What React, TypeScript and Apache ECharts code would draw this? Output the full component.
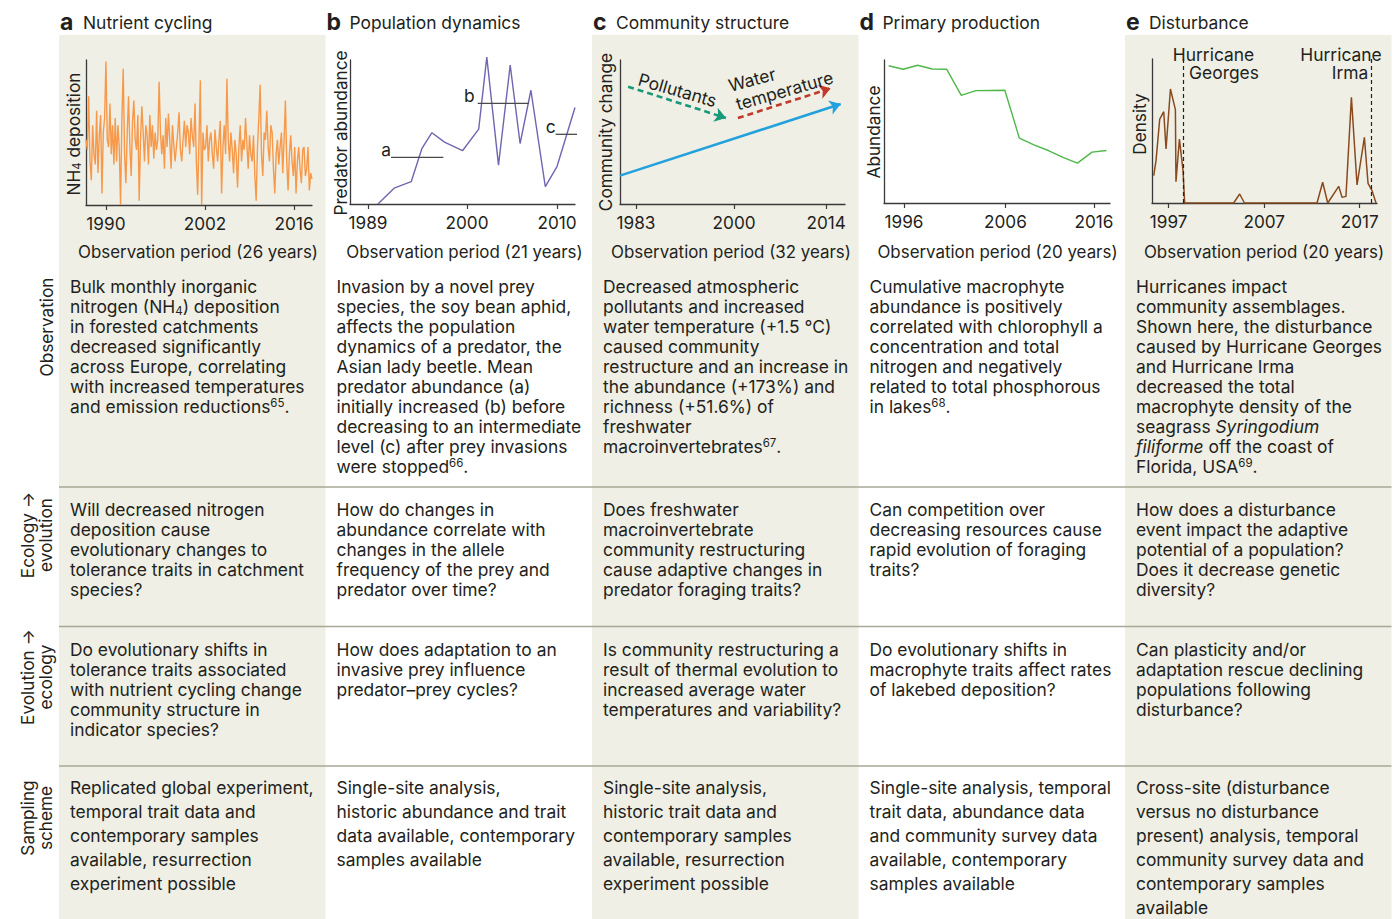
import React, { useEffect, useRef } from "react";
import * as echarts from "echarts";

const FONT = "Inter, 'Noto Sans', sans-serif";
const FS = 17.4;
const FS_TICK = 17.2;
const FS_XNAME = 16.9;
const TXT = "#231f20";
const AX = "#3a3a3a";
const BEIGE = "#efefe5";
const RULE = "#a9a896";

// ---------- panel a: nutrient cycling (monthly series, index axis) ----------
const nutrientTickPos = [15, 89.5, 156.5];
const nutrientTickLabels = ["1990", "2002", "2016"];
const nutrientDeposition = [
  45, 38, 75, 30, 17, 55, 35, 28, 65, 22,
  48, 62, 8, 50, 60, 99, 45, 40, 70, 35,
  55, 28, 60, 30, 55, 40, 0, 60, 94, 35,
  15, 50, 75, 40, 20, 58, 72, 45, 38, 62,
  3, 45, 68, 50, 30, 55, 48, 28, 62, 40,
  55, 32, 50, 38, 45, 85, 50, 35, 48, 25,
  60, 40, 63, 45, 25, 55, 42, 30, 40, 50,
  64, 38, 30, 45, 58, 40, 55, 50, 35, 60,
  48, 40, 70, 30, 7, 45, 86, 0, 50, 38,
  40, 55, 30, 45, 50, 35, 25, 52, 40, 30,
  45, 58, 8, 40, 55, 35, 87, 45, 30, 50,
  38, 22, 45, 35, 12, 40, 55, 30, 45, 38,
  60, 42, 25, 48, 35, 30, 48, 20, 3, 40,
  60, 83, 35, 20, 50, 45, 65, 40, 30, 55,
  50, 25, 8, 35, 45, 28, 40, 50, 22, 45,
  72, 30, 10, 35, 48, 30, 20, 40, 8, 30,
  40, 25, 15, 38, 40, 20, 25, 40, 10, 22,
  18,
];

// ---------- panel b: population dynamics ----------
const predatorTickYears = [1989, 2000, 2010];
const predatorYears = [1990.1, 1991.9, 1993.8, 1995.0, 1996.1, 1997.5, 1999.5, 2001.3, 2002.2, 2003.5, 2004.8, 2005.9, 2007.1, 2008.7, 2010.0, 2012.0];
const predatorAbundance = [0, 11, 15.5, 38.7, 49.5, 43, 37, 52, 102, 27, 96.5, 42, 79, 12, 26, 67];
const phaseLabels = ["a", "b", "c"];
const phaseStart = [1991.56, 2001.19, 2009.85];
const phaseEnd = [1997.37, 2006.89, 2013.03];
const phaseLevel = [32.4, 69.9, 48.4];

// ---------- panel c: community structure (schematic) ----------
const communityTickPos = [7.1, 50.7, 91.6];
const communityTickLabels = ["1983", "2000", "2014"];
const communityTrend = [[0, 19.7], [98.1, 69.4]];
const pollutantArrow = [[3.6, 81.5], [47.1, 59.7]];
const temperatureArrow = [[52.4, 59.7], [93.6, 80.3]];

// ---------- panel d: primary production ----------
const productionTickPos = [1.06, 8.04, 14.14];
const productionTickLabels = ["1996", "2006", "2016"];
const macrophyteIndex = [0, 1, 2, 3, 4, 5, 6, 8, 9, 10, 11, 12, 13, 14, 15];
const macrophyteAbundance = [96, 93.5, 96.3, 93.7, 93.5, 75.3, 78.6, 78.8, 45.3, 40.7, 36.7, 31.9, 27.9, 35.6, 36.7];

// ---------- panel e: disturbance ----------
const disturbanceTickYears = [1997, 2007, 2017];
const densityYears = [1995.43, 1995.67, 1996.06, 1996.48, 1996.72, 1997.18, 1997.7, 1997.76, 1998.12, 1998.5, 1998.67, 2003.8, 2004.43, 2004.93, 2012.53, 2013.12, 2013.65, 2014.8, 2015.15, 2015.56, 2016.13, 2016.72, 2017.49, 2017.87, 2018.29, 2018.71];
const densityValues = [19, 29.4, 58.3, 63.4, 37.5, 79.2, 64.8, 14.8, 44.4, 22.5, 0, 0, 6.25, 0, 0, 14.4, 0, 11.6, 3.9, 4.6, 73.4, 12.5, 45.6, 13.7, 8.6, 0];
const hurricaneYears = [1998.57, 2018.22];

// ---------- texts ----------
const panelLetters = ["a", "b", "c", "d", "e"];
const panelTitles = ["Nutrient cycling", "Population dynamics", "Community structure", "Primary production", "Disturbance"];
const xAxisNames = [
  "Observation period (26 years)",
  "Observation period (21 years)",
  "Observation period (32 years)",
  "Observation period (20 years)",
  "Observation period (20 years)",
];
const yAxisNames = ["NH{sub|4} deposition", "Predator abundance", "Community change", "Abundance", "Density"];
const rowLabels = [["Observation"], ["Ecology \u2192", "evolution"], ["Evolution \u2192", "ecology"], ["Sampling", "scheme"]];

const observationText = [
  ["Bulk monthly inorganic", "nitrogen (NH{sub|4}) deposition", "in forested catchments", "decreased significantly", "across Europe, correlating", "with increased temperatures", "and emission reductions{sup|65}."],
  ["Invasion by a novel prey", "species, the soy bean aphid,", "affects the population", "dynamics of a predator, the", "Asian lady beetle. Mean", "predator abundance (a)", "initially increased (b) before", "decreasing to an intermediate", "level (c) after prey invasions", "were stopped{sup|66}."],
  ["Decreased atmospheric", "pollutants and increased", "water temperature (+1.5 \u00b0C)", "caused community", "restructure and an increase in", "the abundance (+173%) and", "richness (+51.6%) of", "freshwater", "macroinvertebrates{sup|67}."],
  ["Cumulative macrophyte", "abundance is positively", "correlated with chlorophyll a", "concentration and total", "nitrogen and negatively", "related to total phosphorous", "in lakes{sup|68}."],
  ["Hurricanes impact", "community assemblages.", "Shown here, the disturbance", "caused by Hurricane Georges", "and Hurricane Irma", "decreased the total", "macrophyte density of the", "seagrass {it|Syringodium}", "{it|filiforme} off the coast of", "Florida, USA{sup|69}."],
];
const ecoEvoText = [
  ["Will decreased nitrogen", "deposition cause", "evolutionary changes to", "tolerance traits in catchment", "species?"],
  ["How do changes in", "abundance correlate with", "changes in the allele", "frequency of the prey and", "predator over time?"],
  ["Does freshwater", "macroinvertebrate", "community restructuring", "cause adaptive changes in", "predator foraging traits?"],
  ["Can competition over", "decreasing resources cause", "rapid evolution of foraging", "traits?"],
  ["How does a disturbance", "event impact the adaptive", "potential of a population?", "Does it decrease genetic", "diversity?"],
];
const evoEcoText = [
  ["Do evolutionary shifts in", "tolerance traits associated", "with nutrient cycling change", "community structure in", "indicator species?"],
  ["How does adaptation to an", "invasive prey influence", "predator\u2013prey cycles?"],
  ["Is community restructuring a", "result of thermal evolution to", "increased average water", "temperatures and variability?"],
  ["Do evolutionary shifts in", "macrophyte traits affect rates", "of lakebed deposition?"],
  ["Can plasticity and/or", "adaptation rescue declining", "populations following", "disturbance?"],
];
const samplingText = [
  ["Replicated global experiment,", "temporal trait data and", "contemporary samples", "available, resurrection", "experiment possible"],
  ["Single-site analysis,", "historic abundance and trait", "data available, contemporary", "samples available"],
  ["Single-site analysis,", "historic trait data and", "contemporary samples", "available, resurrection", "experiment possible"],
  ["Single-site analysis, temporal", "trait data, abundance data", "and community survey data", "available, contemporary", "samples available"],
  ["Cross-site (disturbance", "versus no disturbance", "present) analysis, temporal", "community survey data and", "contemporary samples", "available"],
];

// ---------- layout ----------
const COL_X = [59, 325.5, 592, 858.5, 1125];
const COL_W = 266.5;
const RULES_Y = [487, 626.5, 766];
const GRIDS = [
  { left: 86, top: 60, width: 226, height: 145 },
  { left: 350, top: 60, width: 225, height: 144 },
  { left: 620, top: 60, width: 225, height: 144 },
  { left: 884, top: 60, width: 226, height: 143 },
  { left: 1152, top: 59, width: 225, height: 144 },
];

const RICH: any = {
  sup: { fontFamily: FONT, fontSize: 11.5, lineHeight: 11, verticalAlign: "top", fill: TXT },
  sub: { fontFamily: FONT, fontSize: 11.5, lineHeight: 12, verticalAlign: "bottom", fill: TXT },
  it: { fontFamily: FONT, fontSize: FS, fontStyle: "italic", fill: TXT },
};

function txt(x: number, y: number, text: string, opts: any = {}) {
  return {
    type: "text",
    x,
    y,
    z: 10,
    silent: true,
    rotation: opts.rotation || 0,
    style: {
      text,
      fontFamily: FONT,
      fontSize: opts.fontSize || FS,
      fontWeight: opts.fontWeight || "normal",
      fill: TXT,
      lineHeight: opts.lineHeight || 20,
      textAlign: opts.align || "left",
      textVerticalAlign: opts.valign || "middle",
      rich: RICH,
    },
  };
}

function buildOption() {
  const graphic: any[] = [];
  [0, 2, 4].forEach((c) => {
    graphic.push({ type: "rect", z: -5, silent: true, shape: { x: COL_X[c], y: 35, width: COL_W, height: 919 - 35 }, style: { fill: BEIGE } });
  });
  RULES_Y.forEach((y) => {
    graphic.push({ type: "line", z: 1, silent: true, shape: { x1: 59, y1: y, x2: 1391.5, y2: y }, style: { stroke: RULE, lineWidth: 1.5 } });
  });
  const rowCenters = [327, 535, 677, 818];
  rowLabels.forEach((lines, i) => {
    graphic.push(txt(lines.length === 1 ? 46.5 : 36, rowCenters[i], lines.join("\n"), { rotation: Math.PI / 2, align: "center", lineHeight: 18, fontSize: 17.2 }));
  });
  const yNamePos = [[73, 134], [340, 133], [605, 132], [873, 132], [1139, 124]];
  for (let c = 0; c < 5; c++) {
    const x0 = COL_X[c];
    graphic.push(txt(x0 + 1, 22, panelLetters[c], { fontSize: 23, fontWeight: "bold" }));
    graphic.push(txt(x0 + 24, 22, panelTitles[c]));
    graphic.push(txt(x0 + 139, 251.5, xAxisNames[c], { align: "center", fontSize: FS_XNAME }));
    graphic.push(txt(yNamePos[c][0], yNamePos[c][1], yAxisNames[c], { rotation: Math.PI / 2, align: "center", fontSize: 17.2 }));
    graphic.push(txt(x0 + 11, 276.5, observationText[c].join("\n"), { valign: "top", lineHeight: 20 }));
    graphic.push(txt(x0 + 11, 499, ecoEvoText[c].join("\n"), { valign: "top", lineHeight: 20 }));
    graphic.push(txt(x0 + 11, 639, evoEcoText[c].join("\n"), { valign: "top", lineHeight: 20 }));
    graphic.push(txt(x0 + 11, 775.5, samplingText[c].join("\n"), { valign: "top", lineHeight: 24 }));
  }
  // panel c annotations
  graphic.push(txt(677.5, 90, "Pollutants", { align: "center", rotation: (-16 * Math.PI) / 180 }));
  graphic.push(txt(752, 79.5, "Water", { align: "center", rotation: (15 * Math.PI) / 180 }));
  graphic.push(txt(784.5, 90.5, "temperature", { align: "center", rotation: (16 * Math.PI) / 180 }));
  // panel e annotations
  graphic.push(txt(1213.5, 54, "Hurricane", { align: "center" }));
  graphic.push(txt(1224, 72.5, "Georges", { align: "center" }));
  graphic.push(txt(1341, 54, "Hurricane", { align: "center" }));
  graphic.push(txt(1350, 72.5, "Irma", { align: "center" }));

  const xDefs = [
    { min: 0, max: 170, ticks: nutrientTickPos, labels: nutrientTickLabels },
    { min: 1987, max: 2012, ticks: predatorTickYears, labels: predatorTickYears.map(String) },
    { min: 0, max: 100, ticks: communityTickPos, labels: communityTickLabels },
    { min: -0.32, max: 15.24, ticks: productionTickPos, labels: productionTickLabels },
    { min: 1995.25, max: 2018.81, ticks: disturbanceTickYears, labels: disturbanceTickYears.map(String) },
  ];
  const xAxis = xDefs.map((d, i) => ({
    type: "value",
    gridIndex: i,
    min: d.min,
    max: d.max,
    axisLine: { show: true, onZero: false, lineStyle: { color: AX, width: 1.3 } },
    axisTick: { show: true, customValues: d.ticks, length: 5, lineStyle: { color: AX, width: 1.2 } },
    axisLabel: {
      show: true,
      customValues: d.ticks,
      margin: 10,
      fontFamily: FONT,
      fontSize: FS_TICK,
      color: TXT,
      formatter: (v: number) => {
        let best = 0;
        d.ticks.forEach((t, k) => {
          if (Math.abs(t - v) < Math.abs(d.ticks[best] - v)) best = k;
        });
        return d.labels[best];
      },
    },
    splitLine: { show: false },
  }));
  const yAxis = GRIDS.map((_, i) => ({
    type: "value",
    gridIndex: i,
    min: 0,
    max: 100,
    axisLine: { show: true, onZero: false, lineStyle: { color: AX, width: 1.3 } },
    axisTick: { show: false },
    axisLabel: { show: false },
    splitLine: { show: false },
  }));

  const series: any[] = [];
  series.push({
    type: "line", xAxisIndex: 0, yAxisIndex: 0, silent: true, showSymbol: false,
    data: nutrientDeposition.map((v, i) => [i, v]),
    lineStyle: { color: "#f7994a", width: 1.4 },
  });
  series.push({
    type: "line", xAxisIndex: 1, yAxisIndex: 1, silent: true, showSymbol: false, clip: false,
    data: predatorYears.map((y, i) => [y, predatorAbundance[i]]),
    lineStyle: { color: "#6e66b0", width: 1.4 },
  });
  phaseLabels.forEach((lab, i) => {
    series.push({
      type: "line", xAxisIndex: 1, yAxisIndex: 1, silent: true, clip: false,
      symbol: "circle", symbolSize: 0, showSymbol: true,
      itemStyle: { color: "#4a4a4a" },
      lineStyle: { color: "#4a4a4a", width: 1.3 },
      data: [
        {
          value: [phaseStart[i], phaseLevel[i]],
          label: { show: true, formatter: lab, position: "left", distance: 0, offset: [i === 1 ? -3 : 0, -8], fontFamily: FONT, fontSize: FS, color: TXT },
        },
        [phaseEnd[i], phaseLevel[i]],
      ],
    });
  });
  const arrows = [
    { pts: communityTrend, color: "#22a1dc", type: "solid", width: 2.6 },
    { pts: pollutantArrow, color: "#17997a", type: [6, 4], width: 2.6 },
    { pts: temperatureArrow, color: "#c1392b", type: [6, 4], width: 2.6 },
  ];
  arrows.forEach((a) => {
    series.push({
      type: "line", xAxisIndex: 2, yAxisIndex: 2, silent: true, showSymbol: false,
      data: a.pts, lineStyle: { opacity: 0 },
      markLine: {
        silent: true, symbol: ["none", "arrow"], symbolSize: 11, label: { show: false },
        lineStyle: { color: a.color, width: a.width, type: a.type },
        data: [[{ coord: a.pts[0] }, { coord: a.pts[1] }]],
      },
    });
  });
  series.push({
    type: "line", xAxisIndex: 3, yAxisIndex: 3, silent: true, showSymbol: false,
    data: macrophyteIndex.map((x, i) => [x, macrophyteAbundance[i]]),
    lineStyle: { color: "#4fb84a", width: 1.4 },
  });
  series.push({
    type: "line", xAxisIndex: 4, yAxisIndex: 4, silent: true, showSymbol: false,
    data: densityYears.map((x, i) => [x, densityValues[i]]),
    lineStyle: { color: "#8b4a1e", width: 1.5 },
    markLine: {
      silent: true, symbol: "none", label: { show: false },
      lineStyle: { color: "#222", width: 1.2, type: [4, 3] },
      data: hurricaneYears.map((v) => ({ xAxis: v })),
    },
  });

  return {
    animation: false,
    backgroundColor: "#ffffff",
    grid: GRIDS.map((g) => ({ ...g, containLabel: false })),
    xAxis,
    yAxis,
    series,
    graphic: { elements: graphic },
  };
}

export default function App() {
  const ref = useRef<HTMLDivElement>(null);
  useEffect(() => {
    if (!ref.current) return;
    const chart = echarts.init(ref.current, undefined, { renderer: "svg" });
    chart.setOption(buildOption() as any);
    return () => chart.dispose();
  }, []);
  return <div ref={ref} style={{ position: "absolute", left: 0, top: 0, width: 1399, height: 919 }} />;
}
